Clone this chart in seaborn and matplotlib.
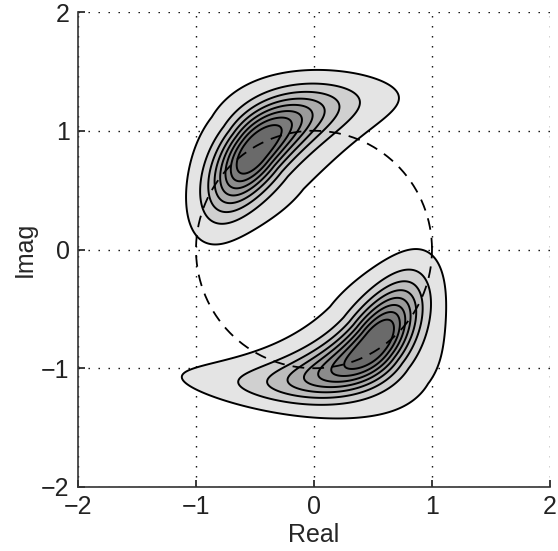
import numpy as np
import matplotlib
matplotlib.use("Agg")
import matplotlib.pyplot as plt
import seaborn as sns
import pandas as pd

# ---- values ----
blob_names = ["upper", "lower"]
peak_x = [-0.50, 0.52]
peak_y = [0.83, -0.78]
axis_angle_deg = [232.0, 52.0]      # main axis direction (tail lies on the negative side)
bend_tail = [0.45, 0.66]            # ridge curvature on the tail side
bend_head = [0.12, 0.12]            # ridge curvature on the blunt side
core_long = [0.47, 0.52]
core_short = [0.36, 0.36]
core_across = [0.16, 0.16]
across_widening = [0.25, 0.25]
halo_weight = [0.15, 0.15]
halo_across = [0.36, 0.40]
halo_shift = [0.05, -0.06]
level_fractions = [0.06, 0.17, 0.28, 0.39, 0.50, 0.61, 0.72, 0.83]
fill_grays = ["#e4e4e4", "#d0d0d0", "#bdbdbd", "#ababab",
              "#9b9b9b", "#8b8b8b", "#7b7b7b", "#6a6a6a"]
tick_values = [-2, -1, 0, 1, 2]
circle_radius = 1.0

sns.set_theme(style="ticks")
plt.rcParams["font.family"] = ["Liberation Sans", "DejaVu Sans"]

fig = plt.figure(figsize=(5.58, 5.51), dpi=100)
ax = fig.add_axes([78 / 558, 64 / 551, 472 / 558, 475 / 551])

xs = np.linspace(-2.2, 2.2, 700)
ys = np.linspace(-2.2, 2.2, 700)
X, Y = np.meshgrid(xs, ys)
Z = np.zeros_like(X)
for i in range(len(blob_names)):
    phi = np.deg2rad(axis_angle_deg[i])
    dx = X - peak_x[i]
    dy = Y - peak_y[i]
    u = dx * np.cos(phi) + dy * np.sin(phi)
    v = -dx * np.sin(phi) + dy * np.cos(phi)
    kappa = np.where(u < 0, bend_tail[i], bend_head[i])
    w = v - kappa * u ** 2
    su = np.where(u < 0, core_long[i], core_short[i])
    widen = 1 + across_widening[i] * np.maximum(-u, 0)
    along = np.exp(-0.5 * (u / su) ** 2)
    core = along * np.exp(-0.5 * (w / (core_across[i] * widen)) ** 2)
    hu = su * 1.15
    halo = halo_weight[i] * np.exp(-0.5 * (u / hu) ** 2) * \
        np.exp(-0.5 * ((w - halo_shift[i]) / (halo_across[i] * widen)) ** 2)
    Z += core + halo
Z = Z / Z.max()

levels = list(level_fractions) + [1.01]
ax.contourf(X, Y, Z, levels=levels, colors=fill_grays, zorder=1)
ax.contour(X, Y, Z, levels=level_fractions, colors="black", linewidths=1.4, zorder=2)

# dashed unit circle
theta = np.linspace(0, 2 * np.pi, 400)
circ = pd.DataFrame({"x": circle_radius * np.cos(theta), "y": circle_radius * np.sin(theta)})
sns.lineplot(data=circ, x="x", y="y", sort=False, estimator=None, ax=ax,
             color="black", linewidth=1.3, zorder=3)
ax.lines[-1].set_dashes([6.5, 4.5])

ax.set_xlim(-2, 2)
ax.set_ylim(-2, 2)
ax.set_xticks(tick_values)
ax.set_yticks(tick_values)
ax.set_xticklabels([f"{t}".replace("-", "\u2212") for t in tick_values])
ax.set_yticklabels([f"{t}".replace("-", "\u2212") for t in tick_values])
ax.grid(True, linestyle=(0, (1, 6.2)), color="black", linewidth=1.0)
for s in ["top", "right"]:
    ax.spines[s].set_visible(False)
for s in ["left", "bottom"]:
    ax.spines[s].set_color("#333333")
    ax.spines[s].set_linewidth(1.2)
ax.tick_params(direction="in", length=5, labelsize=18, colors="#222222")
ax.tick_params(axis="x", pad=6)
ax.tick_params(axis="y", pad=6)
ax.set_xlabel("Real", fontsize=18, labelpad=3)
ax.set_ylabel("Imag", fontsize=18, labelpad=3)

fig.savefig("out.png", dpi=100)
